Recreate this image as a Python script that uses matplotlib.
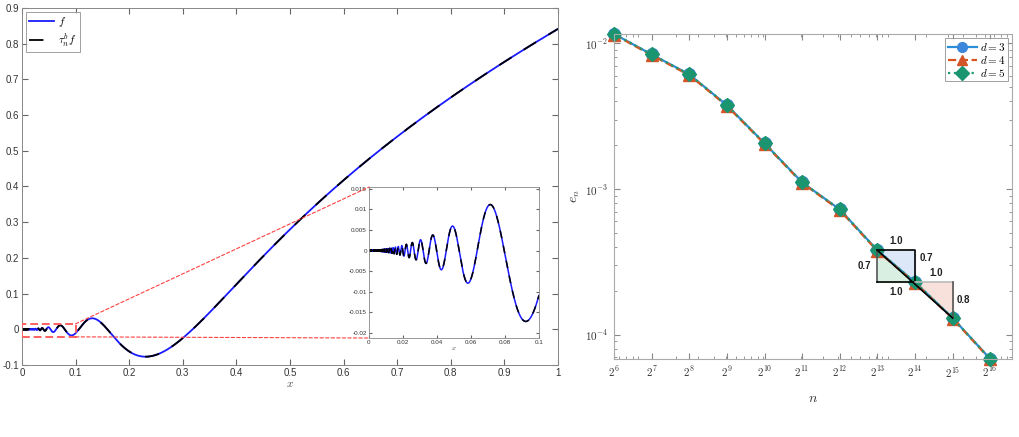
import matplotlib
matplotlib.use('Agg')
import matplotlib.pyplot as plt
import numpy as np
from matplotlib.patches import Rectangle, ConnectionPatch
from matplotlib.ticker import LogLocator, NullFormatter

plt.rcParams['mathtext.fontset'] = 'cm'
plt.rcParams['axes.unicode_minus'] = False
plt.rcParams['font.family'] = ['Liberation Sans', 'DejaVu Sans']

# left panel: f(x) = x^alpha * sin(1/x), alpha = 1.7 (from the caption / curve extrema)
alpha = 1.7
x_min, x_max = 1e-4, 1.0
inset_xlim = (0.0, 0.1)
inset_ylim = (-0.0212, 0.0154)

# right panel: error e_n vs n
n_exp = [6, 7, 8, 9, 10, 11, 12, 13, 14, 15, 16]
e_d3 = [1.16e-2, 8.4e-3, 6.12e-3, 3.76e-3, 2.06e-3, 1.11e-3, 7.24e-4, 3.79e-4, 2.29e-4, 1.30e-4, 6.8e-5]
e_d4 = [1.15e-2, 8.3e-3, 6.05e-3, 3.72e-3, 2.04e-3, 1.10e-3, 7.16e-4, 3.75e-4, 2.27e-4, 1.29e-4, 6.75e-5]
e_d5 = [1.16e-2, 8.4e-3, 6.12e-3, 3.76e-3, 2.06e-3, 1.11e-3, 7.24e-4, 3.79e-4, 2.29e-4, 1.30e-4, 6.8e-5]
slope_labels = ['1.0', '0.7', '1.0', '0.7', '1.0', '0.8']

x = np.concatenate([np.geomspace(x_min, 0.02, 60000), np.linspace(0.02, x_max, 20000)])
f = x**alpha * np.sin(1.0 / x)

fig = plt.figure(figsize=(10.19, 4.37), dpi=100)

# ---------------- left panel
ax1 = fig.add_axes([0.0216, 0.1648, 0.5260, 0.8169])
ax1.plot(x, f, color='#1a1aff', lw=1.3, label='$f$')
ax1.plot(x, f, color='k', lw=1.3, ls=(0, (8, 8)), label=r'$\tau_n^b f$')
ax1.set_xlim(0, 1)
ax1.set_ylim(-0.1, 0.9)
ax1.set_xticks(np.arange(0, 1.01, 0.1))
ax1.set_xticklabels(['0', '0.1', '0.2', '0.3', '0.4', '0.5', '0.6', '0.7', '0.8', '0.9', '1'])
ax1.set_yticks(np.arange(-0.1, 0.91, 0.1))
ax1.set_yticklabels(['-0.1', '0', '0.1', '0.2', '0.3', '0.4', '0.5', '0.6', '0.7', '0.8', '0.9'])
ax1.tick_params(direction='in', top=True, right=True, labelsize=7, length=4,
                color='#666666', labelcolor='#333333', pad=2)
for s in ax1.spines.values():
    s.set_color('#888888')
    s.set_linewidth(0.7)
ax1.set_xlabel('$x$', fontsize=8, labelpad=1, color='#444444')
leg1 = ax1.legend(loc='upper left', fontsize=8, handlelength=2.2, borderpad=0.3,
                  labelspacing=0.2, fancybox=False, edgecolor='#888888',
                  borderaxespad=0.35, handletextpad=0.4)
leg1.get_frame().set_linewidth(0.7)

# zoom rectangle
ax1.add_patch(Rectangle((inset_xlim[0], inset_ylim[0]), inset_xlim[1] - inset_xlim[0],
                        inset_ylim[1] - inset_ylim[0], fill=False, edgecolor='#ff6060',
                        ls=(0, (4, 2)), lw=1.4, zorder=4))

# inset
axi = fig.add_axes([0.3621, 0.2265, 0.1668, 0.3455])
mask = x <= inset_xlim[1]
axi.plot(x[mask], f[mask], color='#1a1aff', lw=1.1)
axi.plot(x[mask], f[mask], color='k', lw=1.1, ls=(0, (5, 5)))
axi.set_xlim(*inset_xlim)
axi.set_ylim(*inset_ylim)
axi.set_xticks([0, 0.02, 0.04, 0.06, 0.08, 0.1])
axi.set_xticklabels(['0', '0.02', '0.04', '0.06', '0.08', '0.1'])
axi.set_yticks([-0.02, -0.015, -0.01, -0.005, 0, 0.005, 0.01, 0.015])
axi.set_yticklabels(['-0.02', '-0.015', '-0.01', '-0.005', '0', '0.005', '0.01', '0.015'])
axi.tick_params(direction='in', top=True, right=True, labelsize=4.5, length=2.5,
                color='#666666', labelcolor='#333333', pad=1.5)
for s in axi.spines.values():
    s.set_color('#888888')
    s.set_linewidth(0.6)
axi.set_xlabel('$x$', fontsize=5, labelpad=0, color='#444444')

for yy, cy in [(inset_ylim[1], 1), (inset_ylim[0], 0)]:
    con = ConnectionPatch(xyA=(inset_xlim[1], yy), coordsA=ax1.transData,
                          xyB=(0, cy), coordsB=axi.transAxes,
                          color='#ff4040', lw=0.8, ls=(0, (3, 2)), zorder=3)
    fig.add_artist(con)

# ---------------- right panel
ax2 = fig.add_axes([0.6026, 0.1785, 0.3906, 0.7437])
n = [2.0**k for k in n_exp]
ax2.plot(n, e_d3, color='#2a8fd8', lw=1.6, ls='-', marker='o', ms=8.5,
         mfc='#3a87db', mec='#3a87db', label='$d=3$', clip_on=False)
ax2.plot(n, e_d4, color='#d9541e', lw=1.6, ls='--', marker='^', ms=8.5,
         mfc='#d4542a', mec='#d4542a', label='$d=4$', clip_on=False)
ax2.plot(n, e_d5, color='#1b9a73', lw=1.6, ls=':', marker='D', ms=7.5,
         mfc='#1b9470', mec='#1b9470', label='$d=5$', clip_on=False)
ax2.set_xscale('log', base=2)
ax2.set_yscale('log')
ax2.set_xlim(2.0**6, 2.0**16.58)
ax2.set_ylim(6.8e-5, 1.16e-2)
ax2.set_xticks(n)
ax2.set_xticklabels(['$2^{%d}$' % k for k in n_exp])
ax2.xaxis.set_minor_locator(LogLocator(base=10, subs=np.arange(1, 10), numticks=50))
ax2.xaxis.set_minor_formatter(NullFormatter())
ax2.set_yticks([1e-4, 1e-3, 1e-2])
ax2.set_yticklabels(['$10^{-4}$', '$10^{-3}$', '$10^{-2}$'])
ax2.yaxis.set_minor_locator(LogLocator(base=10, subs=np.arange(1, 10), numticks=50))
ax2.yaxis.set_minor_formatter(NullFormatter())
ax2.tick_params(which='both', direction='in', top=True, right=True, color='#888888')
ax2.tick_params(which='major', length=4, labelsize=8, labelcolor='#333333', pad=4)
ax2.tick_params(which='minor', length=2)
for s in ax2.spines.values():
    s.set_color('#aaaaaa')
    s.set_linewidth(0.8)
ax2.set_xlabel('$n$', fontsize=10, color='#333333', labelpad=8)
ax2.set_ylabel('$e_n$', fontsize=10, color='#333333', labelpad=2)
leg2 = ax2.legend(loc='upper right', fontsize=8, handlelength=2.6, borderpad=0.2,
                  labelspacing=0.1, fancybox=False, edgecolor='#888888',
                  borderaxespad=0.4, handletextpad=0.3)
leg2.get_frame().set_linewidth(0.7)
for h in leg2.legend_handles:
    h.set_markersize(7)

# slope triangles
x13, x14, x15 = 2.0**13, 2.0**14, 2.0**15
e13, e14, e15 = e_d3[7], e_d3[8], e_d3[9]
ax2.fill([x13, x13, x14], [e13, e14, e14], color='#d9efe2', zorder=1)
ax2.fill([x13, x14, x14], [e13, e13, e14], color='#dce8f7', zorder=1)
ax2.fill([x14, x15, x15], [e14, e14, e15], color='#f7e1da', zorder=1)
ax2.plot([x13, x13], [e13, e14], color='#555555', lw=1.2, zorder=2)
ax2.plot([x13, x14], [e14, e14], color='k', lw=1.2, zorder=2)
ax2.plot([x13, x14, x14], [e13, e13, e14], color='k', lw=1.2, zorder=2)
ax2.plot([x14, x15], [e14, e14], color='#bbbbbb', lw=1.2, zorder=2)
ax2.plot([x15, x15], [e14, e15], color='#555555', lw=1.2, zorder=2)
ax2.plot([x13, x15], [e13, e15], color='k', lw=1.2, zorder=4)
gm = lambda a, b: np.sqrt(a * b)
tk = dict(fontsize=7, fontweight='bold', color='#222222', zorder=6)
ax2.text(gm(x13, x14), e13 * 1.07, slope_labels[0], ha='center', va='bottom', **tk)
ax2.text(x13 / 1.12, gm(e13, e14), slope_labels[1], ha='right', va='center', **tk)
ax2.text(gm(x13, x14), e14 / 1.08, slope_labels[2], ha='center', va='top', **tk)
ax2.text(x14 * 1.08, e13 / 1.12, slope_labels[3], ha='left', va='center', **tk)
ax2.text(gm(x14, x15) * 1.05, e14 * 1.07, slope_labels[4], ha='center', va='bottom', **tk)
ax2.text(x15 * 1.08, gm(e14, e15), slope_labels[5], ha='left', va='center', **tk)

fig.savefig('out.png', dpi=100)
